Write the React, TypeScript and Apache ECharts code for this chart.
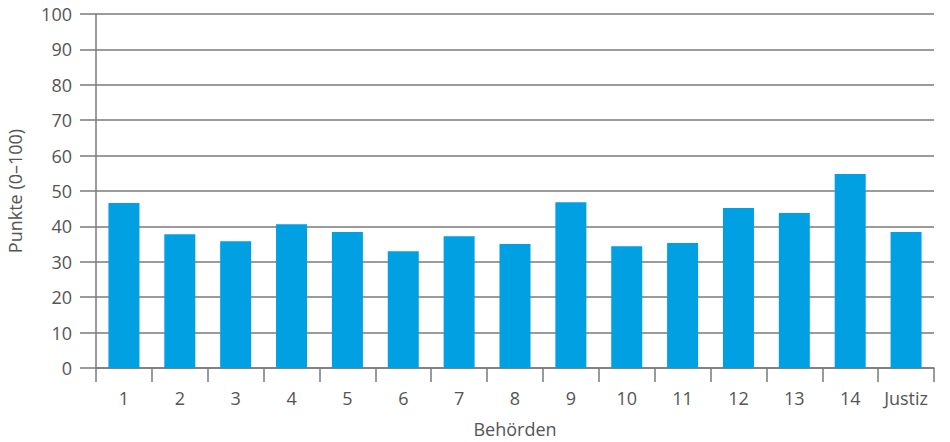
import React, { useEffect, useRef } from "react";
import * as echarts from "echarts";

const categories = ["1", "2", "3", "4", "5", "6", "7", "8", "9", "10", "11", "12", "13", "14", "Justiz"];
const values = [46.6, 37.8, 35.8, 40.6, 38.4, 33.0, 37.2, 35.0, 46.8, 34.4, 35.3, 45.2, 43.8, 54.8, 38.4];
const yTicks = { min: 0, max: 100, interval: 10 };
const xName = "Behörden";
const yName = "Punkte (0–100)";

const FONT = "Open Sans";
const TEXT = "#555555";
const LINE = "#7a7a7a";
const FS = 18;

export default function App() {
  const ref = useRef<HTMLDivElement>(null);
  useEffect(() => {
    if (!ref.current) return;
    const chart = echarts.init(ref.current, null, { renderer: "svg" });
    chart.setOption({
      animation: false,
      textStyle: { fontFamily: FONT },
      grid: { left: 88, right: 8, top: 6, bottom: 74, containLabel: false, outerBoundsMode: "none" },
      xAxis: {
        type: "category",
        data: categories,
        name: xName,
        nameLocation: "middle",
        nameGap: 52,
        nameTextStyle: { fontSize: FS, color: TEXT, fontFamily: FONT },
        axisLine: { lineStyle: { color: LINE, width: 1.5 } },
        axisTick: { show: true, interval: 0, length: 14, lineStyle: { color: LINE, width: 1.5 } },
        axisLabel: { interval: 0, hideOverlap: false, fontSize: FS, color: TEXT, margin: 21, fontFamily: FONT },
      },
      yAxis: {
        type: "value",
        min: yTicks.min,
        max: yTicks.max,
        interval: yTicks.interval,
        name: yName,
        nameLocation: "middle",
        nameGap: 72,
        nameTextStyle: { fontSize: FS, color: TEXT, fontFamily: FONT },
        axisLine: { show: true, lineStyle: { color: LINE, width: 1.5 } },
        axisTick: { show: true, length: 16, lineStyle: { color: LINE, width: 1.5 } },
        axisLabel: { fontSize: FS, color: TEXT, margin: 24, fontFamily: FONT },
        splitLine: { show: true, lineStyle: { color: LINE, width: 1.5 } },
      },
      series: [
        {
          type: "bar",
          data: values,
          barWidth: 31,
          itemStyle: { color: "#00A0E3" },
        },
      ],
    });
    return () => chart.dispose();
  }, []);
  return <div ref={ref} style={{ width: 934, height: 434 }} />;
}
